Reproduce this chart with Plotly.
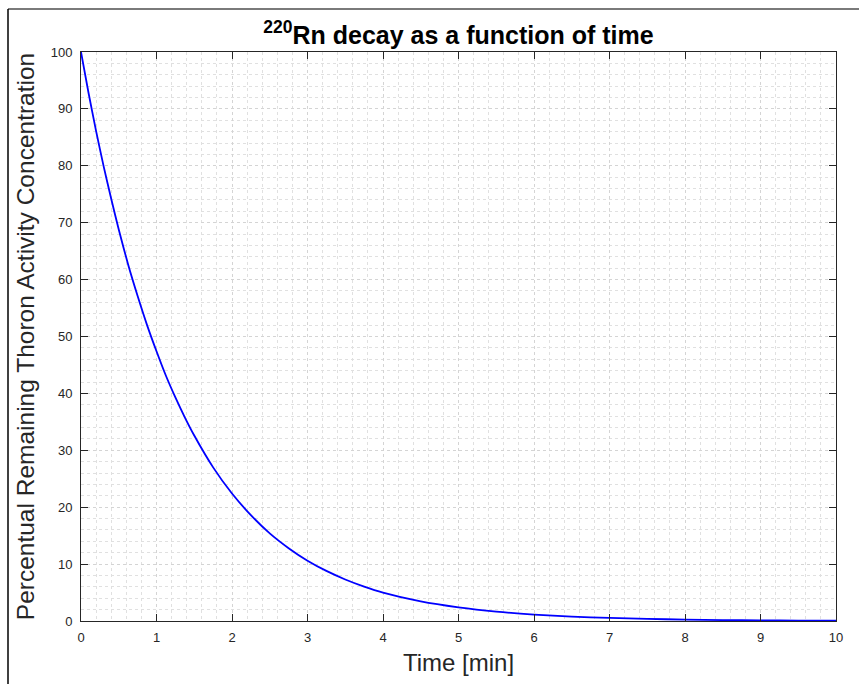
import plotly.graph_objects as go

# Time [min] and remaining percentage
time_min = [0, 0.1, 0.2, 0.3, 0.4, 0.5, 0.625, 0.75, 0.875, 1.0, 1.125, 1.25, 1.375, 1.5,
            1.75, 2.0, 2.25, 2.5, 2.75, 3.0, 3.25, 3.5, 3.75, 4.0, 4.5, 5.0, 5.5, 6.0,
            6.5, 7.0, 7.5, 8.0, 8.5, 9.0, 9.5, 10.0]
remaining_pct = [100, 92.8, 86.1, 79.9, 74.2, 68.8, 62.6, 57.1, 52.0, 47.4, 43.1, 39.3, 35.8, 32.6,
                 27.0, 22.4, 18.6, 15.4, 12.8, 10.6, 8.8, 7.3, 6.05, 5.0, 3.45, 2.4, 1.65, 1.13,
                 0.78, 0.54, 0.37, 0.25, 0.17, 0.12, 0.08, 0.06]

x_ticks = list(range(0, 11))
y_ticks = list(range(0, 101, 10))

W, H = 859, 684
L, R, T, B = 81, 23, 52, 63
pw, ph = W - L - R, H - T - B
FONT = "Liberation Sans, Arial, sans-serif"

fig = go.Figure()
fig.add_trace(go.Scatter(x=time_min, y=remaining_pct, mode="lines",
                         line=dict(color="#0000ff", width=1.8, shape="spline", smoothing=0.6),
                         showlegend=False, hoverinfo="x+y"))

axis_common = dict(
    showline=True, linecolor="#262626", linewidth=1, mirror="ticks",
    ticks="inside", ticklen=7, tickcolor="#262626", tickwidth=1,
    showgrid=True, gridcolor="#d4d4d4", griddash="dot", gridwidth=1,
    zeroline=False,
    tickfont=dict(family=FONT, size=13, color="#262626"),
)

fig.update_xaxes(range=[0, 10], tickvals=x_ticks, ticktext=[str(v) for v in x_ticks],
                 ticklabelstandoff=4,
                 title=dict(text="Time [min]", font=dict(family=FONT, size=24, color="#262626"),
                            standoff=10),
                 minor=dict(dtick=0.2, showgrid=True, gridcolor="#e0e0e0", griddash="dot", ticks=""),
                 **axis_common)
fig.update_yaxes(range=[0, 100], tickvals=y_ticks, ticktext=[str(v) for v in y_ticks],
                 ticklabelstandoff=5,
                 title=dict(text="Percentual Remaining Thoron Activity Concentration",
                            font=dict(family=FONT, size=24.5, color="#262626"),
                            standoff=9),
                 minor=dict(dtick=2, showgrid=True, gridcolor="#e0e0e0", griddash="dot", ticks=""),
                 **axis_common)

# Figure frame lines (top grey, left black)
fx0 = (8 - L) / pw
fy_top = (H - B - 9) / ph
fig.add_shape(type="line", xref="paper", yref="paper", x0=fx0, x1=(W - L) / pw + 0.01,
              y0=fy_top, y1=fy_top, line=dict(color="#7a7a7a", width=2))
fig.add_shape(type="line", xref="paper", yref="paper", x0=fx0, x1=fx0,
              y0=fy_top, y1=-B / ph - 0.01, line=dict(color="#000000", width=1.5))

fig.update_layout(
    width=W, height=H,
    margin=dict(l=L, r=R, t=T, b=B),
    paper_bgcolor="white", plot_bgcolor="white",
    title=dict(text="<b><sup>220</sup>Rn decay as a function of time</b>",
               x=0.5, xref="paper", xanchor="center",
               y=1 - 35 / H, yref="container", yanchor="middle",
               font=dict(family=FONT, size=25, color="#000000")),
)

fig.write_html("out.html")
